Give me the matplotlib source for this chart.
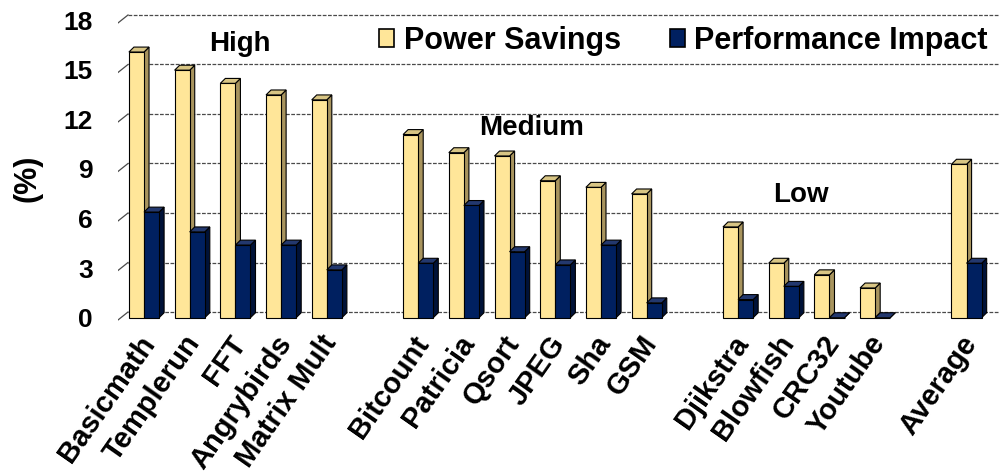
import numpy as np
import matplotlib
matplotlib.use("Agg")
import matplotlib.pyplot as plt
from matplotlib.patches import Polygon, Patch

plt.rcParams['font.family'] = ['Liberation Sans', 'DejaVu Sans']
plt.rcParams['font.weight'] = 'bold'

# --- data ---
high_names = ['Basicmath', 'Templerun', 'FFT', 'Angrybirds', 'Matrix Mult']
high_power = [16.1, 15.0, 14.2, 13.5, 13.2]
high_perf = [6.4, 5.2, 4.4, 4.4, 2.9]

medium_names = ['Bitcount', 'Patricia', 'Qsort', 'JPEG', 'Sha', 'GSM']
medium_power = [11.1, 10.0, 9.8, 8.3, 7.9, 7.5]
medium_perf = [3.3, 6.8, 4.0, 3.2, 4.4, 0.9]

low_names = ['Djikstra', 'Blowfish', 'CRC32', 'Youtube']
low_power = [5.5, 3.3, 2.6, 1.8]
low_perf = [1.1, 1.9, 0.0, 0.0]

avg_names = ['Average']
avg_power = [9.3]
avg_perf = [3.3]

group_labels = ['High', 'Medium', 'Low']
yticks = [0, 3, 6, 9, 12, 15, 18]

# --- colours ---
YEL = '#FFE699'
YEL_SIDE = '#A8945E'
YEL_TOP = '#D8C584'
NAVY = '#002060'
NAVY_SIDE = '#001238'
NAVY_TOP = '#23386E'

# slot positions: one empty slot between groups
groups = [(high_names, high_power, high_perf),
          (medium_names, medium_power, medium_perf),
          (low_names, low_power, low_perf),
          (avg_names, avg_power, avg_perf)]
names, power, perf, xpos = [], [], [], []
slot = 0
for g_names, g_pow, g_perf in groups:
    for n, p, q in zip(g_names, g_pow, g_perf):
        names.append(n); power.append(p); perf.append(q); xpos.append(slot)
        slot += 1
    slot += 1
xpos = np.array(xpos, dtype=float)

fig = plt.figure(figsize=(9.99, 4.75), dpi=100)
ax = fig.add_axes([118 / 999, (475 - 321) / 475, (999 - 118) / 999, (321 - 5) / 475])
ax.set_xlim(-0.569, 18.71)
ax.set_ylim(-0.2, 18.95)
ax.axis('off')

# back wall offset and bar depth (data units)
wall_dy = 0.345
wall_dx = 0.22
bw = 0.33
ddx, ddy = 0.11, 0.30

# gridlines + diagonal ticks + labels
for v in yticks:
    ax.plot([-0.35, 18.9], [v + wall_dy, v + wall_dy], color='#4a4a4a', lw=0.9,
            ls=(0, (3, 1.2)), zorder=1, clip_on=False)
    ax.plot([-0.35 - wall_dx, -0.35], [v - 0.14, v + wall_dy], color='#4a4a4a', lw=0.9, zorder=1)
    ax.text(-1.12, v - 0.14, str(v), ha='right', va='center', fontsize=19, fontweight='bold')

ax.text(-2.54, 8.47, '(%)', rotation=90, ha='center', va='center', fontsize=22, fontweight='bold')


def bar3d(x0, h, face, side, top, z):
    x1 = x0 + bw
    ax.add_patch(Polygon([(x1, 0), (x1 + ddx, ddy), (x1 + ddx, h + ddy), (x1, h)],
                         closed=True, facecolor=side, edgecolor='black', lw=0.8, zorder=z))
    ax.add_patch(Polygon([(x0, h), (x0 + ddx, h + ddy), (x1 + ddx, h + ddy), (x1, h)],
                         closed=True, facecolor=top, edgecolor='black', lw=0.8, zorder=z))
    ax.bar(x0, h, width=bw, align='edge', color=face, edgecolor='black', lw=0.8, zorder=z + 0.1)


for x, p, q in zip(xpos, power, perf):
    bar3d(x - bw, p, YEL, YEL_SIDE, YEL_TOP, 2)
    bar3d(x, q, NAVY, NAVY_SIDE, NAVY_TOP, 3)

# category labels
for x, n in zip(xpos, names):
    ax.text(x + 0.1, -1.25, n, rotation=55, rotation_mode='anchor', ha='right', va='center',
            fontsize=21, fontweight='bold')

# group labels
ax.text(2.1, 16.6, group_labels[0], ha='center', va='center', fontsize=20, fontweight='bold')
ax.text(8.49, 11.5, group_labels[1], ha='center', va='center', fontsize=20, fontweight='bold')
ax.text(14.38, 7.43, group_labels[2], ha='center', va='center', fontsize=20, fontweight='bold')

handles = [Patch(facecolor=YEL, edgecolor='black', lw=1.2, label='Power Savings'),
           Patch(facecolor=NAVY, edgecolor='black', lw=1.2, label='Performance Impact')]
fig.legend(handles=handles, loc='center right', bbox_to_anchor=(1015 / 999, 1 - 41 / 475),
           ncol=2, frameon=False, handlelength=0.5, handleheight=0.5,
           handletextpad=0.3, columnspacing=1.6, prop={'weight': 'bold', 'size': 22})

fig.savefig('out.png', dpi=100)
